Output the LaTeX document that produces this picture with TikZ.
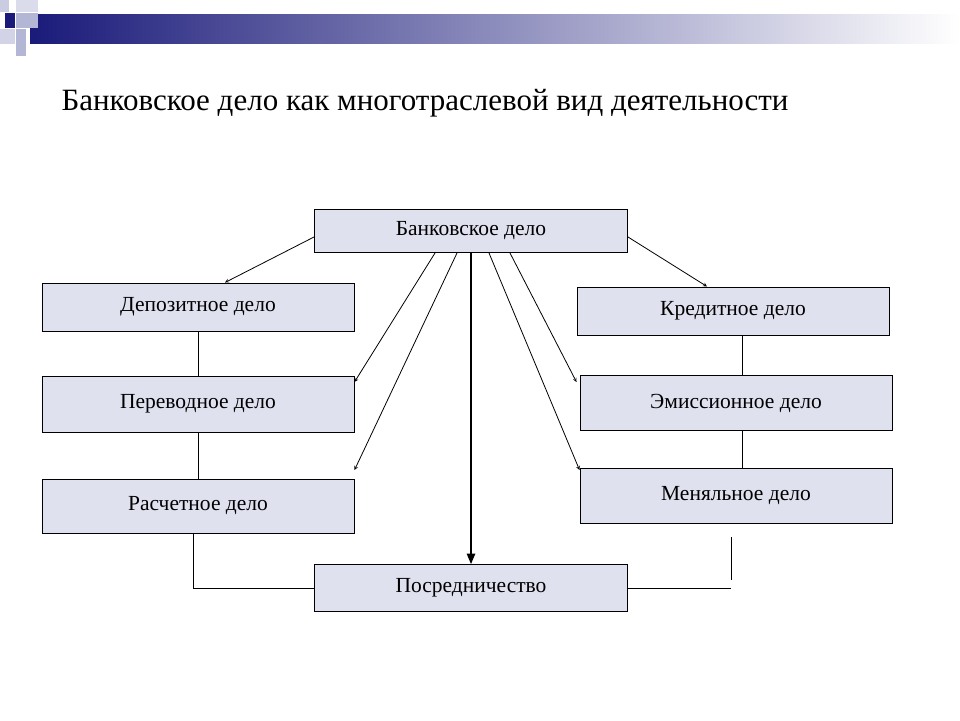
\documentclass[tikz,border=0pt]{standalone}
\usepackage{fontspec}
\setmainfont{Liberation Serif}
\usetikzlibrary{arrows,positioning,calc}
\definecolor{boxfill}{HTML}{DFE1EF}
\definecolor{navy}{HTML}{1A1A7A}
\definecolor{lilac}{HTML}{B4B6D6}
\tikzset{
	block/.style={draw=black, fill=boxfill, line width=1pt, minimum width=312pt, minimum height=48pt,
		inner sep=0pt, font=\fontsize{21.5}{24}\selectfont},
	link/.style={draw=black, line width=0.8pt},
	branch/.style={draw=black, line width=0.8pt, ->, >=stealth},
	mainbranch/.style={draw=black, line width=1.4pt, ->, >=triangle 45},
}
\begin{document}
\begin{tikzpicture}[x=1pt, y=-1pt]
	\useasboundingbox (0,0) rectangle (960,720);
	% header decoration
	\shade[left color=navy, right color=white] (30,14) rectangle (960,43);
	\fill[lilac!70] (0,0) rectangle (9,12);
	\fill[lilac!50] (16,0) rectangle (38,12);
	\fill[navy] (5,13) rectangle (15,28);
	\fill[lilac] (16,13) rectangle (38,28);
	\fill[lilac!60] (0,29) rectangle (15,44);
	\fill[lilac] (16,29) rectangle (26,56);
	\node[anchor=base west, font=\fontsize{31}{36}\selectfont] (title) at (58,110) {Банковское дело как многотраслевой вид деятельности};
	% blocks
	\node[block, minimum width=313pt, minimum height=43pt] (bank) at (471,231) {Банковское дело};
	\node[block] (depo) at (198,307) {Депозитное дело};
	\node[block, minimum height=56pt] (trans) at (198,404) {Переводное дело};
	\node[block, minimum height=54pt] (calc) at (198,506) {Расчетное дело};
	\node[block, minimum width=313pt, minimum height=47pt] (mediate) at (471,588) {Посредничество};
	\node[block] (credit) at (733,311) {Кредитное дело};
	\node[block, minimum height=55pt] (emis) at (736,403) {Эмиссионное дело};
	\node[block, minimum height=55pt] (exch) at (736,496) {Меняльное дело};
	% arrows
	\draw[branch] ([yshift=-6]bank.west) -- ([xshift=27]depo.north);
	\draw[branch] ([yshift=-6]bank.east) -- ([xshift=-26]credit.north);
	\draw[branch] ([xshift=-36]bank.south) -- ([yshift=22]trans.east);
	\draw[branch] ([xshift=-14]bank.south) -- ([yshift=36]calc.east);
	\draw[mainbranch] (bank.south) -- (mediate.north);
	\draw[branch] ([xshift=18]bank.south) -- ([yshift=26]exch.west);
	\draw[branch] ([xshift=39]bank.south) -- ([xshift=-3,yshift=21]emis.west);
	% links
	\draw[link] (depo) -- (trans);
	\draw[link] (trans) -- (calc);
	\draw[link] ([xshift=9]credit.south) -- ([xshift=6]emis.north);
	\draw[link] ([xshift=6]emis.south) -- ([xshift=6]exch.north);
	\coordinate (rtop) at ([xshift=-5,yshift=-13]exch.south);
	\draw[link] ([xshift=-5]calc.south) |- (mediate.west);
	\draw[link] (rtop) -- ++(0,43) coordinate (rbot);
	\draw[link] (mediate.east) -- (rbot |- mediate.east);
\end{tikzpicture}
\end{document}
